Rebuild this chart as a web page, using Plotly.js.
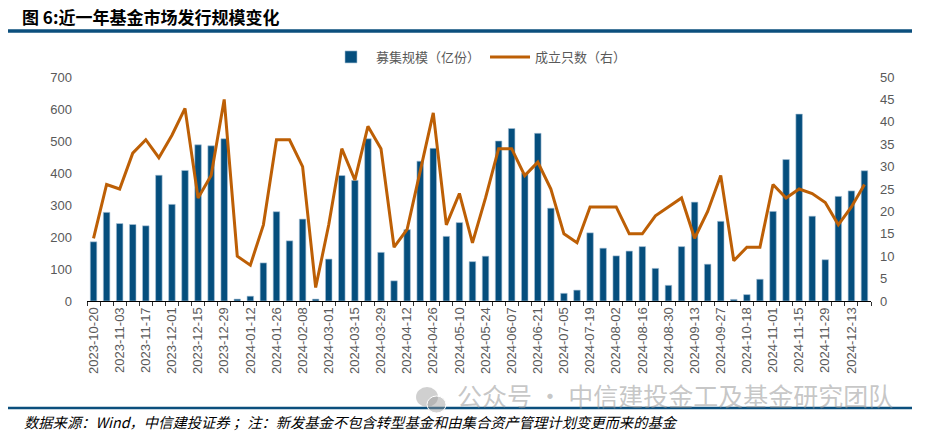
<!DOCTYPE html>
<html>
<head>
<meta charset="utf-8">
<script src="https://cdn.plot.ly/plotly-3.0.1.min.js"></script>
<style>html,body{margin:0;padding:0;background:#fff;}#chart{width:943px;height:443px;}</style>
</head>
<body>
<div id="chart"></div>
<script>
// Weekly dates (Spring Festival and National Day weeks skipped)
const dates = [
  "2023-10-20","2023-10-27","2023-11-03","2023-11-10","2023-11-17","2023-11-24","2023-12-01","2023-12-08",
  "2023-12-15","2023-12-22","2023-12-29","2024-01-05","2024-01-12","2024-01-19","2024-01-26","2024-02-02",
  "2024-02-08","2024-02-23","2024-03-01","2024-03-08","2024-03-15","2024-03-22","2024-03-29","2024-04-03",
  "2024-04-12","2024-04-19","2024-04-26","2024-04-30","2024-05-10","2024-05-17","2024-05-24","2024-05-31",
  "2024-06-07","2024-06-14","2024-06-21","2024-06-28","2024-07-05","2024-07-12","2024-07-19","2024-07-26",
  "2024-08-02","2024-08-09","2024-08-16","2024-08-23","2024-08-30","2024-09-06","2024-09-13","2024-09-20",
  "2024-09-27","2024-10-11","2024-10-18","2024-10-25","2024-11-01","2024-11-08","2024-11-15","2024-11-22",
  "2024-11-29","2024-12-06","2024-12-13","2024-12-20"
];
// 募集规模（亿份）
const issueSize = [
  185,277,242,239,235,393,302,408,488,485,507,6,15,119,279,188,
  256,6,131,392,377,507,152,63,223,437,477,202,245,123,140,500,
  539,400,524,290,24,34,213,165,141,156,170,102,49,170,309,115,
  249,5,20,68,280,442,584,265,129,327,344,407
];
// 成立只数（右）
const fundCount = [
  14,26,25,33,36,32,37,43,23,28,45,10,8,17,36,36,
  30,3,17,34,27,39,34,12,16,29,42,17,24,13,23,34,
  34,28,31,25,15,13,21,21,21,15,15,19,21,23,14,20,
  28,9,12,12,26,23,25,24,22,17,21,26
];
// tick labels shown every second week
const tickText = dates.map((d, i) => (i % 2 === 0 ? d : ""));

const L = 87, T = 77, W = 784, H = 224;
const px = x => (x - L) / W;
const py = y => (T + H - y) / H;

const gray = "#595959";
const data = [
  {type: "bar", x: dates, y: issueSize, name: "募集规模（亿份）",
   marker: {color: "#054e7d", line: {color: "#a9c3d6", width: 0.6}}, yaxis: "y"},
  {type: "scatter", mode: "lines", x: dates, y: fundCount, name: "成立只数（右）",
   line: {color: "#bd5f05", width: 3}, yaxis: "y2"}
];

const layout = {
  width: 943, height: 443,
  margin: {l: L, r: 943 - L - W, t: T, b: 443 - T - H},
  paper_bgcolor: "#ffffff", plot_bgcolor: "#ffffff",
  bargap: 0.5,
  showlegend: true,
  legend: {orientation: "h", x: 0.5, xanchor: "center", y: py(57), yanchor: "middle",
           font: {family: "Noto Sans CJK SC", size: 13, color: gray}, itemwidth: 40, tracegroupgap: 0},
  title: {text: "<b>图 6:近一年基金市场发行规模变化</b>", xref: "container", yref: "container",
          x: 22 / 943, xanchor: "left", y: 1 - 18 / 443, yanchor: "middle",
          font: {family: "Noto Sans CJK SC", size: 17, color: "#000"}},
  xaxis: {type: "category", tickmode: "array", tickvals: dates, ticktext: tickText,
          tickson: "boundaries", ticks: "outside", ticklen: 4, tickcolor: "#333",
          tickangle: -90, showline: true, linecolor: "#000", linewidth: 1.2,
          showgrid: false, zeroline: false,
          tickfont: {family: "Liberation Sans", size: 13, color: gray}},
  yaxis: {range: [0, 700], dtick: 100, showgrid: false, zeroline: false, showline: false,
          ticks: "", ticklabelstandoff: 14,
          tickfont: {family: "Liberation Sans", size: 13, color: gray}},
  yaxis2: {range: [0, 50], dtick: 5, overlaying: "y", side: "right", showgrid: false,
           zeroline: false, showline: false, ticks: "", ticklabelstandoff: 8,
           tickfont: {family: "Liberation Sans", size: 13, color: gray}},
  shapes: [
    {type: "line", xref: "paper", yref: "paper", x0: px(8), x1: px(912), y0: py(31), y1: py(31),
     line: {color: "#0b4f7d", width: 3.5}},
    {type: "line", xref: "paper", yref: "paper", x0: px(8), x1: px(912), y0: py(408), y1: py(408),
     line: {color: "#0b4f7d", width: 2.5}},
    {type: "circle", xref: "paper", yref: "paper", x0: px(416), x1: px(438), y0: py(407), y1: py(387),
     fillcolor: "rgba(150,150,150,0.45)", line: {width: 0}},
    {type: "circle", xref: "paper", yref: "paper", x0: px(427), x1: px(446), y0: py(413), y1: py(396),
     fillcolor: "rgba(150,150,150,0.45)", line: {color: "#ffffff", width: 1}}
  ],
  annotations: [
    {xref: "paper", yref: "paper", x: px(22), y: py(421), xanchor: "left", yanchor: "middle",
     showarrow: false, text: "数据来源：Wind，中信建投证券 ；注：新发基金不包含转型基金和由集合资产管理计划变更而来的基金",
     font: {family: "Noto Sans CJK SC", size: 14.3, color: "#000", style: "italic"}},
    {xref: "paper", yref: "paper", x: px(455), y: py(395), xanchor: "left", yanchor: "middle",
     showarrow: false, text: "公众号 · 中信建投金工及基金研究团队",
     font: {family: "Noto Sans CJK SC", size: 25, color: "rgba(150,150,150,0.55)"}}
  ]
};

Plotly.newPlot("chart", data, layout, {displayModeBar: false, staticPlot: true});
</script>
</body>
</html>
